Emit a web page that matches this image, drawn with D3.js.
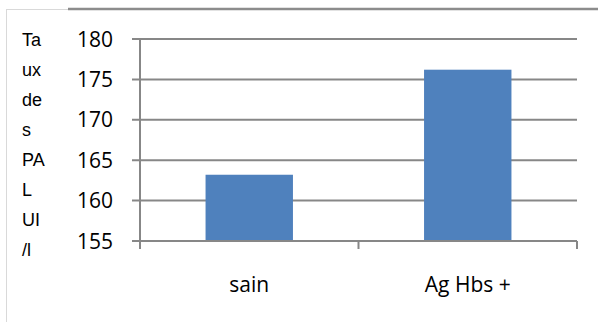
<!DOCTYPE html>
<html>
<head>
<meta charset="utf-8">
<script src="https://cdn.jsdelivr.net/npm/d3@7"></script>
<style>
  html, body { margin: 0; padding: 0; background: #fff; }
  svg { display: block; }
</style>
</head>
<body>
<svg id="chart" width="598" height="322"></svg>
<script>
// Mean PAL level per group
const categories = ["sain", "Ag Hbs +"];
const values = [163.2, 176.2];
const yTicks = [155, 160, 165, 170, 175, 180];
const yTitleLines = ["Ta", "ux", "de", "s", "PA", "L", "UI", "/l"];

const svg = d3.select("#chart");
const W = 598, H = 322;
const plot = { left: 140, right: 577, top: 39, bottom: 241 };
const gridColor = "#878787";
const barColor = "#4f81bd";

// Frame around the chart area
svg.append("line").attr("x1", 6.5).attr("x2", 6.5).attr("y1", 9).attr("y2", H)
  .attr("stroke", "#d9d9d9").attr("stroke-width", 1);
svg.append("line").attr("x1", 6).attr("x2", 68).attr("y1", 9.5).attr("y2", 9.5)
  .attr("stroke", "#d9d9d9").attr("stroke-width", 1);
svg.append("line").attr("x1", 68).attr("x2", W).attr("y1", 9).attr("y2", 9)
  .attr("stroke", "#8c8c8c").attr("stroke-width", 2.5);

const x = d3.scaleBand().domain(categories).range([plot.left, plot.right])
  .paddingInner(0.6).paddingOuter(0.3);
const y = d3.scaleLinear().domain([155, 180]).range([plot.bottom, plot.top]);

// Horizontal gridlines with short outer ticks
svg.append("g").selectAll("line").data(yTicks).join("line")
  .attr("x1", plot.left - 8).attr("x2", plot.right)
  .attr("y1", d => y(d)).attr("y2", d => y(d))
  .attr("stroke", gridColor).attr("stroke-width", 2);

// Y tick labels
svg.append("g").selectAll("text").data(yTicks).join("text")
  .attr("x", 113).attr("y", d => y(d)).attr("dy", "0.36em")
  .attr("text-anchor", "end")
  .attr("font-family", "'Open Sans', sans-serif").attr("font-size", 21)
  .attr("fill", "#000").text(d => d);

// Bars
svg.append("g").selectAll("rect").data(values).join("rect")
  .attr("x", (d, i) => x(categories[i]))
  .attr("width", x.bandwidth())
  .attr("y", d => y(d))
  .attr("height", d => y(155) - y(d))
  .attr("fill", barColor);

// Axes lines
svg.append("line").attr("x1", plot.left).attr("x2", plot.left)
  .attr("y1", plot.top).attr("y2", plot.bottom + 8)
  .attr("stroke", gridColor).attr("stroke-width", 2);
svg.append("line").attr("x1", plot.left - 8).attr("x2", plot.right)
  .attr("y1", plot.bottom).attr("y2", plot.bottom)
  .attr("stroke", gridColor).attr("stroke-width", 2);

// Category separators on the x axis
const bounds = d3.range(categories.length + 1).map(i => plot.left + (plot.right - plot.left) * i / categories.length);
svg.append("g").selectAll("line").data(bounds).join("line")
  .attr("x1", d => d).attr("x2", d => d)
  .attr("y1", plot.bottom).attr("y2", plot.bottom + 8)
  .attr("stroke", gridColor).attr("stroke-width", 2);

// Category labels
svg.append("g").selectAll("text").data(categories).join("text")
  .attr("x", d => x(d) + x.bandwidth() / 2).attr("y", 292)
  .attr("text-anchor", "middle")
  .attr("font-family", "'Open Sans', sans-serif").attr("font-size", 21)
  .attr("fill", "#000").text(d => d);

// Y axis title, broken into short stacked pieces
svg.append("g").selectAll("text").data(yTitleLines).join("text")
  .attr("x", 22).attr("y", (d, i) => 40 + i * 30).attr("dy", "0.36em")
  .attr("font-family", "'Liberation Sans', Arial, sans-serif").attr("font-size", 18)
  .attr("fill", "#000").text(d => d);
</script>
</body>
</html>
